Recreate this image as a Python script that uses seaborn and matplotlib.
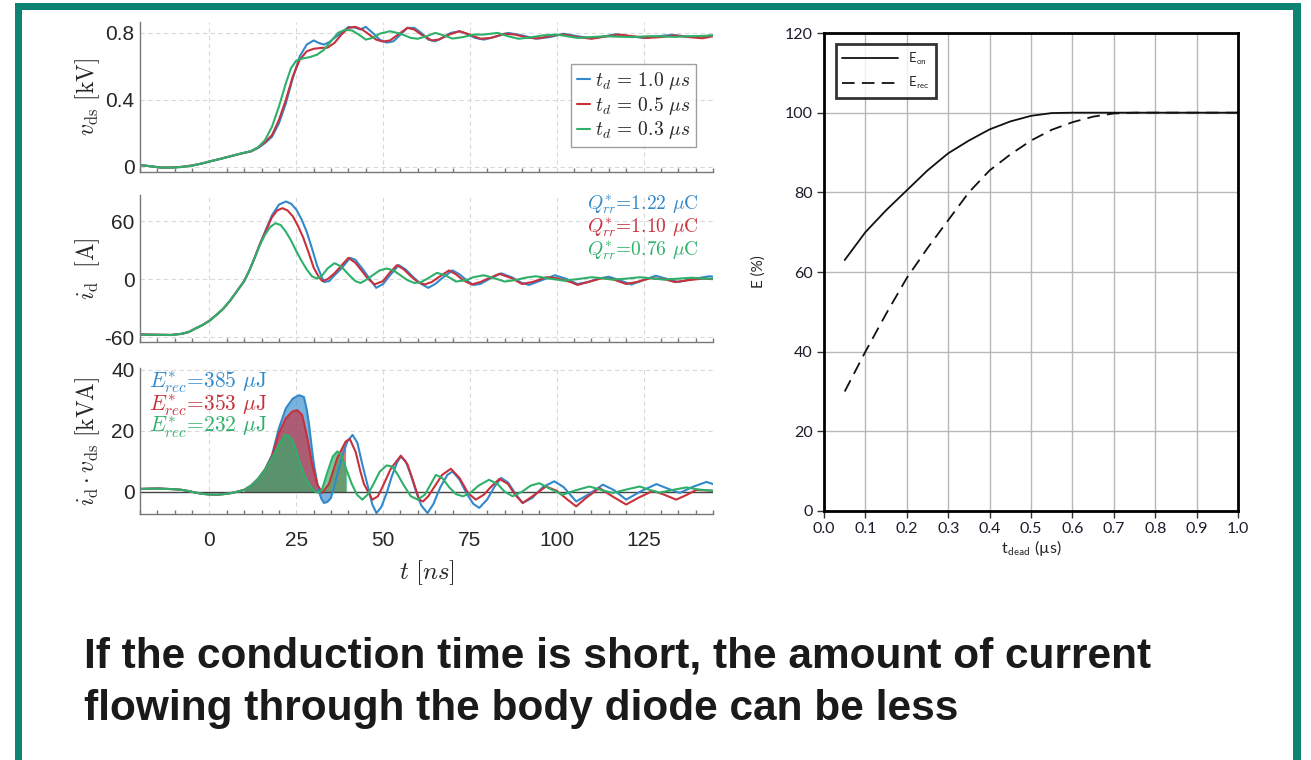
import numpy as np
import pandas as pd
import matplotlib
matplotlib.use("Agg")
import matplotlib.pyplot as plt
from matplotlib.patches import Rectangle
from matplotlib.ticker import MultipleLocator
import seaborn as sns

# ---------------- data ----------------
series_labels = [r"$t_d\,=\,1.0\ \mu s$", r"$t_d\,=\,0.5\ \mu s$", r"$t_d\,=\,0.3\ \mu s$"]
series_colors = ["#3189cc", "#c8303c", "#2fb06a"]
qrr_labels = [r"$Q^{*}_{rr}$=1.22 $\mu$C", r"$Q^{*}_{rr}$=1.10 $\mu$C", r"$Q^{*}_{rr}$=0.76 $\mu$C"]
erec_labels = [r"$E^{*}_{rec}$=385 $\mu$J", r"$E^{*}_{rec}$=353 $\mu$J", r"$E^{*}_{rec}$=232 $\mu$J"]

# v_ds [kV] : (t [ns], value)
vds_blue = [(-20, 0.012), (-17, 0.004), (-14, -0.003), (-11, -0.004), (-8, 0.0), (-5, 0.008), (-2, 0.021),
            (0, 0.032), (3, 0.047), (6, 0.063), (9, 0.079), (12, 0.093), (14, 0.113), (16, 0.143), (18, 0.18),
            (20, 0.26), (22, 0.38), (24, 0.53), (26, 0.66), (28, 0.73), (30, 0.755), (31.5, 0.74), (33, 0.73),
            (34.5, 0.745), (36, 0.77), (38, 0.80), (40, 0.835), (42, 0.832), (43.5, 0.82), (45, 0.836),
            (47, 0.80), (49, 0.76), (51, 0.742), (53, 0.75), (55, 0.79), (57, 0.83), (59, 0.83), (61, 0.80),
            (63, 0.76), (65, 0.75), (67, 0.77), (69.5, 0.80), (72, 0.81), (74, 0.795), (76.5, 0.77),
            (79, 0.76), (82, 0.775), (86, 0.80), (90, 0.785), (94, 0.765), (98, 0.775), (102, 0.795),
            (106, 0.78), (110, 0.768), (114, 0.78), (117, 0.792), (121, 0.78), (125, 0.77), (129, 0.78),
            (133, 0.788), (137, 0.78), (140, 0.775), (145, 0.785)]
vds_red = [(-20, 0.010), (-17, 0.005), (-14, -0.004), (-11, -0.003), (-8, 0.001), (-5, 0.009), (-2, 0.022),
           (0, 0.033), (3, 0.048), (6, 0.064), (9, 0.080), (12, 0.094), (14, 0.116), (16, 0.148), (18, 0.19),
           (20, 0.28), (22, 0.40), (24, 0.54), (26, 0.64), (28, 0.69), (30, 0.705), (32, 0.71), (34, 0.712),
           (36, 0.74), (38, 0.79), (40, 0.83), (42, 0.836), (44, 0.82), (46, 0.79), (48, 0.76), (50, 0.748),
           (52, 0.755), (54, 0.785), (57, 0.83), (59, 0.82), (61, 0.79), (64, 0.755), (66, 0.76), (69, 0.79),
           (72, 0.81), (75, 0.79), (78, 0.765), (81, 0.77), (85, 0.795), (88, 0.79), (92, 0.77), (95, 0.768),
           (99, 0.785), (102, 0.79), (106, 0.775), (110, 0.765), (114, 0.778), (118, 0.79), (122, 0.78),
           (126, 0.77), (130, 0.775), (134, 0.785), (138, 0.775), (142, 0.768), (145, 0.78)]
vds_green = [(-20, 0.012), (-17, 0.004), (-14, -0.004), (-11, -0.004), (-8, 0.0), (-5, 0.008), (-2, 0.022),
             (0, 0.033), (3, 0.048), (6, 0.064), (9, 0.080), (12, 0.095), (14, 0.118), (16, 0.16), (18, 0.24),
             (20, 0.36), (22, 0.50), (23.5, 0.59), (25, 0.635), (27, 0.648), (29, 0.656), (31, 0.67),
             (33, 0.70), (35, 0.75), (37, 0.80), (39, 0.818), (41, 0.815), (43, 0.79), (45, 0.76), (47, 0.77),
             (49, 0.795), (52, 0.81), (55, 0.795), (58, 0.77), (60, 0.765), (62.5, 0.78), (65, 0.80),
             (67.5, 0.785), (70, 0.766), (73, 0.775), (76, 0.79), (79, 0.79), (83, 0.80), (86, 0.78),
             (89, 0.765), (92, 0.772), (96, 0.785), (100, 0.79), (103, 0.78), (106, 0.77), (110, 0.775),
             (114, 0.78), (118, 0.777), (122, 0.775), (126, 0.78), (130, 0.78), (134, 0.776), (138, 0.78),
             (142, 0.782), (145, 0.785)]

# i_d [A]
id_blue = [(-20, -57.5), (-15, -57.6), (-11, -57.8), (-8, -56.5), (-6, -54.7), (-4, -51), (-2, -47.5), (0, -43),
           (2, -37), (4, -30.5), (6, -22), (8, -12), (10, -2), (11.5, 9), (13, 22), (14.5, 36), (16, 49),
           (18, 66), (20, 77), (22, 80.3), (23.5, 78), (25, 72), (26.5, 62), (28, 49), (29.5, 32), (31, 14),
           (32, 5), (33, -3), (34.5, -2), (36, 4), (38, 11), (40.5, 22), (42, 20), (44, 11), (46, 1), (48, -9),
           (50, -5), (52, 4), (54.5, 14.5), (56.5, 10), (59, 1), (61, -5), (63, -9), (65, -5), (67, 1), (70, 9),
           (72, 5), (74, -1), (76, -6), (78, -5), (81, 1), (84, 6), (87, 2), (90, -4), (92, -6), (95, -2),
           (99.5, 4), (103, 0), (106, -5), (109, -3), (112, 0.5), (115, 2.5), (118, -1), (121.5, -5.5),
           (125, -1), (128.5, 3.5), (132, 0), (135, -3), (139, 0), (144, 3), (145, 2.5)]
id_red = [(-20, -57.0), (-15, -57.5), (-11, -57.6), (-8, -56.6), (-6, -54.7), (-4, -51), (-2, -47.5), (0, -43),
          (2, -37), (4, -30.5), (6, -22), (8, -12), (10, -2), (11.5, 9), (13, 22), (14.5, 36), (16, 48),
          (18, 64), (19.5, 71), (21, 73.4), (22.5, 71), (24, 65), (25.5, 55), (27, 43), (28.5, 28), (30, 12),
          (31.5, 2), (32.5, -2), (34, 0), (36, 6), (38, 14), (40, 22), (42, 17), (44, 8), (45.5, 1),
          (47.5, -5.5), (50, -2), (52, 7), (54, 14.5), (56, 10), (58, 3), (60, -3), (62, -5.5), (64, -3),
          (66, 2), (69, 9), (71, 5), (73, -1), (75.5, -5.5), (78, -3), (80.5, 1), (83.5, 5.5), (87, 1),
          (90, -5), (93, -3), (97, 2), (100, 1), (104, -3), (106, -6), (109, -3), (113, 1), (116, 0),
          (120, -5), (123, -3), (127, 1), (131, 0), (134, -3), (138, -1), (142, 0.5), (145, 0)]
id_green = [(-20, -57.5), (-15, -57.5), (-11, -57.8), (-8, -56.5), (-6, -54.7), (-4, -51), (-2, -47.5), (0, -43),
            (2, -37), (4, -30.5), (6, -22), (8, -12), (10, -2), (11.5, 9), (13, 22), (14.5, 35), (16, 46),
            (17.5, 54), (19, 57.8), (20.5, 56), (22, 49), (23.5, 40), (25, 29), (26.5, 19), (28, 10),
            (29.5, 3), (31, 0.5), (32.5, 4), (34, 11), (36, 16.5), (38, 13), (40, 5), (42, -2), (43.5, -4),
            (45, -1), (47, 4), (49, 9), (51, 11), (53, 9), (55, 4), (57, -1), (59, -4), (61, -3), (63, 1),
            (65.5, 6.5), (68, 4), (71, -2.5), (74, -1), (76, 2), (79, 4), (82, 1), (85, -2.5), (88, -1),
            (91, 1.5), (94, 3), (98, 0.5), (102, -1.5), (106, 0), (110, 2), (113, 1), (116, -0.5), (120, 0.5),
            (124, 2), (128, 0.5), (131, -0.5), (135, 0.5), (139, 1.5), (142, 0.5), (145, 0.5)]

# i_d * v_ds [kVA]
p_blue = [(-20, 0.9), (-17, 1.0), (-14.5, 1.0), (-12, 0.9), (-10, 0.8), (-8, 0.6), (-6, 0.2), (-4, -0.3),
          (-2, -0.7), (0, -0.9), (2, -1.0), (4, -0.8), (6, -0.5), (8, 0.0), (10, 0.6), (12, 2.0), (14, 4.2),
          (16, 7.3), (18, 12), (20, 20.8), (22, 27.3), (24, 30.5), (25.8, 31.6), (27.2, 31), (28, 27),
          (28.7, 21.8), (29.5, 14), (30.1, 8.8), (31, 3), (31.5, 0.1), (32.3, -2.5), (33, -3.7), (34, -3.3),
          (35, -2), (36, 2), (37.3, 7.7), (38.5, 12.5), (39.7, 16.4), (41.2, 18.6), (42.6, 16), (44, 9),
          (45, 4.5), (46, 0), (46.9, -4.2), (48.1, -7), (49.5, -5), (51, -0.5), (52.5, 5), (54, 9.5),
          (55.1, 11.5), (56.5, 10), (58, 5.5), (59.5, 0), (61, -4.5), (62.8, -7), (64.5, -4), (66.5, 1.5),
          (68.5, 5.5), (70, 6.6), (72, 4), (74, -0.5), (76, -4), (77.7, -5.3), (80, -2.5), (82, 1.5),
          (84, 4.5), (86, 3), (88, -0.5), (90.2, -3.7), (93, -2), (96, 1.5), (99.3, 3.4), (102, 1.5),
          (105.6, -3.2), (109, -1), (113.3, 2.3), (116.5, 0.5), (120, -2.6), (124, 0), (128.7, 2.5),
          (132, 1), (135.4, -0.4), (139, 1.5), (143.1, 3.2), (145, 2.5)]
p_red = [(-20, 0.9), (-17, 1.0), (-14.5, 1.1), (-12, 0.9), (-10, 0.8), (-8, 0.6), (-6, 0.2), (-4, -0.3),
         (-2, -0.7), (0, -0.9), (2, -1.0), (4, -0.8), (6, -0.5), (8, 0.0), (10, 0.6), (12, 2.0), (14, 4.2),
         (16, 7.3), (18, 11.5), (20, 19.1), (22, 24), (23.8, 26.2), (25.3, 26.7), (26.7, 25.1), (28.2, 17.5),
         (29.6, 8.8), (31.1, 2.3), (32.5, -0.4), (34.4, 2.5), (36.8, 11), (39.2, 16.4), (40.4, 17.3),
         (42.1, 13), (43.5, 6.5), (44.5, 2.5), (46.9, -2.6), (48.5, -1.5), (50, 2), (52.2, 7.5), (55.1, 11.8),
         (57, 9), (58.5, 4), (60.4, -2.6), (61.5, -3.2), (63, -1.5), (65, 2), (67, 5.5), (69.5, 7.5),
         (72, 4.5), (74.5, -0.5), (76.7, -2.6), (79, -1), (81, 1.5), (83.5, 4.2), (86, 2.5), (88, -1),
         (90.2, -3.7), (93, -1.5), (96.9, 1.7), (100, 0.3), (103, -2.5), (105.6, -4.8), (108.5, -2),
         (112.3, 1.2), (116, -1.5), (120, -4.2), (123.5, -2), (127.7, 0.3), (131, -1), (134.4, -2.6),
         (137.5, -1), (140.2, 0.6), (145, 0.3)]
p_green = [(-20, 0.9), (-17, 1.0), (-14.5, 1.0), (-12, 0.9), (-10, 0.8), (-8, 0.6), (-6, 0.2), (-4, -0.3),
           (-2, -0.7), (0, -0.9), (2, -1.0), (4, -0.8), (6, -0.5), (8, 0.0), (10, 0.6), (12, 2.0), (14, 4.2),
           (16, 7.2), (18, 11), (20, 15.3), (21.8, 18.6), (23, 18.2), (24, 16.5), (25, 13.5), (26, 9.5),
           (27.5, 5), (29, 1.8), (30.5, 0), (31.5, -0.4), (32.5, 1), (34, 6.5), (35.5, 11.5), (36.8, 13.2),
           (38, 12), (39.5, 7), (41, 2.5), (42.5, -1), (44, -2.6), (45.5, -1), (47, 2), (49, 6.5), (51, 8.6),
           (52.5, 8.3), (54, 6), (56, 2), (58, -1.5), (60, -2.6), (62, -1), (63.5, 2), (65.2, 5.5), (67, 4.5),
           (69, 1.5), (71, -0.8), (73, -1.5), (75, -0.5), (77.5, 2), (80.5, 3.9), (83, 2.5), (85, 0),
           (87.3, -1.5), (90, 0), (92.5, 2), (95, 2.8), (98, 1), (101.7, -1), (105, 0.3), (109.4, 1.7),
           (113, 0.5), (116.2, -0.4), (120, 0.7), (123.9, 1.7), (127, 0.5), (129.6, -0.3), (133, 0.5),
           (137.3, 1.4), (141, 0.7), (145, 0.3)]
fill_windows = [(10, 35), (10, 40.3), (10, 40.3)]   # shaded energy windows [ns]

# right chart: E (%) vs t_dead (us)
t_dead = [0.05, 0.10, 0.15, 0.20, 0.25, 0.30, 0.35, 0.40, 0.45, 0.50, 0.55, 0.60, 0.65, 0.70, 0.75,
          0.80, 0.85, 0.90, 0.95, 1.00]
e_on = [63, 70, 75.5, 80.5, 85.5, 89.8, 93, 95.8, 97.8, 99.2, 99.9, 100, 100, 100, 100,
        100, 100, 100, 100, 100]
e_rec = [30, 40, 49.5, 58.5, 66, 73, 80, 85.5, 89.5, 93, 95.7, 97.6, 99, 99.8, 100,
         100, 100, 100, 100, 100]

caption_lines = ["If the conduction time is short, the amount of current",
                 "flowing through the body diode can be less"]

# ---------------- figure ----------------
sns.set_theme(style="white")
plt.rcParams["font.family"] = ["Liberation Sans", "DejaVu Sans"]
plt.rcParams["mathtext.fontset"] = "cm"

W, H = 1311, 760
fig = plt.figure(figsize=(W / 100, H / 100), dpi=100)
fig.patch.set_facecolor("white")


def px_axes(x0, y0, x1, y1):
    return fig.add_axes([x0 / W, 1 - y1 / H, (x1 - x0) / W, (y1 - y0) / H])


ax1 = px_axes(140, 22, 713, 172)
ax2 = px_axes(140, 195, 713, 342)
ax3 = px_axes(140, 368, 713, 514)

groups = [
    (ax1, [vds_blue, vds_red, vds_green], (-0.03, 0.865), [0, 0.4, 0.8], ["0", "0.4", "0.8"],
     r"$v_{\mathrm{ds}}\ [\mathrm{kV}]$"),
    (ax2, [id_blue, id_red, id_green], (-65, 87), [-60, 0, 60], ["-60", "0", "60"],
     r"$i_{\mathrm{d}}\ \ [\mathrm{A}]$"),
    (ax3, [p_blue, p_red, p_green], (-7.3, 40.5), [0, 20, 40], ["0", "20", "40"],
     r"$i_{\mathrm{d}}\cdot v_{\mathrm{ds}}\ [\mathrm{kVA}]$"),
]

for ax, sers, ylim, yt, ytl, ylab in groups:
    ax.set_facecolor("white")
    for k, s in enumerate(sers):
        arr = np.array(s)
        df = pd.DataFrame({"t": arr[:, 0], "v": arr[:, 1]})
        sns.lineplot(data=df, x="t", y="v", ax=ax, color=series_colors[k], linewidth=1.5,
                     label=series_labels[k] if ax is ax1 else None, legend=False, sort=False)
        if ax is ax3:
            lo, hi = fill_windows[k]
            m = (df["t"] >= lo) & (df["t"] <= hi)
            ax.fill_between(df["t"][m], 0, df["v"][m], color=series_colors[k], alpha=0.65, linewidth=0)
    ax.set_xlim(-20, 145)
    ax.set_ylim(*ylim)
    ax.set_yticks(yt)
    ax.set_yticklabels(ytl)
    ax.set_xticks([0, 25, 50, 75, 100, 125])
    ax.xaxis.set_minor_locator(MultipleLocator(5))
    ax.grid(True, which="major", linestyle=(0, (4, 3)), color="#d9d9d9", linewidth=0.8)
    for sp in ["top", "right"]:
        ax.spines[sp].set_visible(False)
    for sp in ["left", "bottom"]:
        ax.spines[sp].set_color("#777777")
        ax.spines[sp].set_linewidth(1.0)
    ax.tick_params(axis="both", which="major", direction="in", length=5, color="#777777",
                   labelsize=15, pad=4)
    ax.tick_params(axis="x", which="minor", direction="in", length=3, color="#777777", bottom=True)
    ax.set_xlabel("")
    ax.set_ylabel(ylab, fontsize=17, labelpad=0)
    ax.yaxis.set_label_coords(-0.066, 0.5)
    if ax is not ax3:
        ax.tick_params(axis="x", labelbottom=False)

ax3.tick_params(axis="x", which="major", pad=12)
ax3.axhline(0, color="#444444", linewidth=1.0, zorder=1)
ax3.set_xlabel(r"$t\ [ns]$", fontsize=18, labelpad=6)

leg = ax1.legend(loc="lower right", bbox_to_anchor=(0.988, 0.10), fontsize=14, frameon=True,
                 handlelength=0.7, handletextpad=0.25, borderpad=0.3, labelspacing=0.15,
                 fancybox=False, edgecolor="#888888")
leg.get_frame().set_linewidth(1.0)

for k, lab in enumerate(qrr_labels):
    ax2.text(0.975, 0.935 - k * 0.158, lab, transform=ax2.transAxes, ha="right", va="center",
             fontsize=14, color=series_colors[k], family=["cmr10", "DejaVu Serif"])
for k, lab in enumerate(erec_labels):
    ax3.text(0.015, 0.905 - k * 0.157, lab, transform=ax3.transAxes, ha="left", va="center",
             fontsize=15.5, color=series_colors[k], family=["cmr10", "DejaVu Serif"])

# ---------------- right chart ----------------
ax4 = px_axes(824, 33, 1238, 511)
dfe = pd.DataFrame({"t": t_dead, "on": e_on, "rec": e_rec})
sns.lineplot(data=dfe, x="t", y="on", ax=ax4, color="#111111", linewidth=1.3, label=r"E$_{\mathsf{on}}$")
sns.lineplot(data=dfe, x="t", y="rec", ax=ax4, color="#111111", linewidth=1.3, label=r"E$_{\mathsf{rec}}$",
             linestyle=(0, (7, 4)))
ax4.set_xlim(0, 1.0)
ax4.set_ylim(0, 120)
ax4.set_xticks(np.round(np.arange(0, 1.01, 0.1), 1))
ax4.set_xticklabels([f"{v:.1f}" for v in np.arange(0, 1.01, 0.1)])
ax4.set_yticks([0, 20, 40, 60, 80, 100, 120])
ax4.grid(True, color="#b8b8b8", linewidth=1.0)
for sp in ax4.spines.values():
    sp.set_visible(True)
    sp.set_color("black")
    sp.set_linewidth(2.0)
ax4.tick_params(axis="both", direction="out", length=5, width=1, color="#333333",
                labelsize=11.5, pad=3, bottom=True, left=True)
for lbl in ax4.get_xticklabels() + ax4.get_yticklabels():
    lbl.set_fontfamily(["Lato", "DejaVu Sans"])
    lbl.set_color("#1c1c2a")
ax4.set_xlabel(r"t$_{\mathsf{dead}}$ (µs)", fontsize=11.5, family=["Lato", "DejaVu Sans"], labelpad=1)
ax4.set_ylabel("E (%)", fontsize=11, family=["Lato", "DejaVu Sans"], labelpad=14)
leg4 = ax4.legend(loc="upper left", bbox_to_anchor=(0.012, 0.99), frameon=True, fancybox=False,
                  edgecolor="black", handlelength=4.2, borderpad=0.5, labelspacing=0.6,
                  prop={"family": ["Lato", "DejaVu Sans"], "size": 9.5})
leg4.get_frame().set_linewidth(2.0)

# ---------------- caption ----------------
fig.text(84 / W, 1 - 668 / H, caption_lines[0], fontsize=30.5, fontweight="bold", color="#1a1a1a",
         va="baseline", ha="left")
fig.text(84 / W, 1 - 720 / H, caption_lines[1], fontsize=30.5, fontweight="bold", color="#1a1a1a",
         va="baseline", ha="left")

# ---------------- teal frame ----------------
teal = "#0e8374"
for (x0, y0, x1, y1) in [(15, 3, 1301, 10), (15, 3, 22, 760), (1293, 3, 1301, 760)]:
    fig.add_artist(Rectangle((x0 / W, 1 - y1 / H), (x1 - x0) / W, (y1 - y0) / H,
                             transform=fig.transFigure, color=teal, linewidth=0, zorder=10))

fig.savefig("out.png", dpi=100, facecolor="white")
